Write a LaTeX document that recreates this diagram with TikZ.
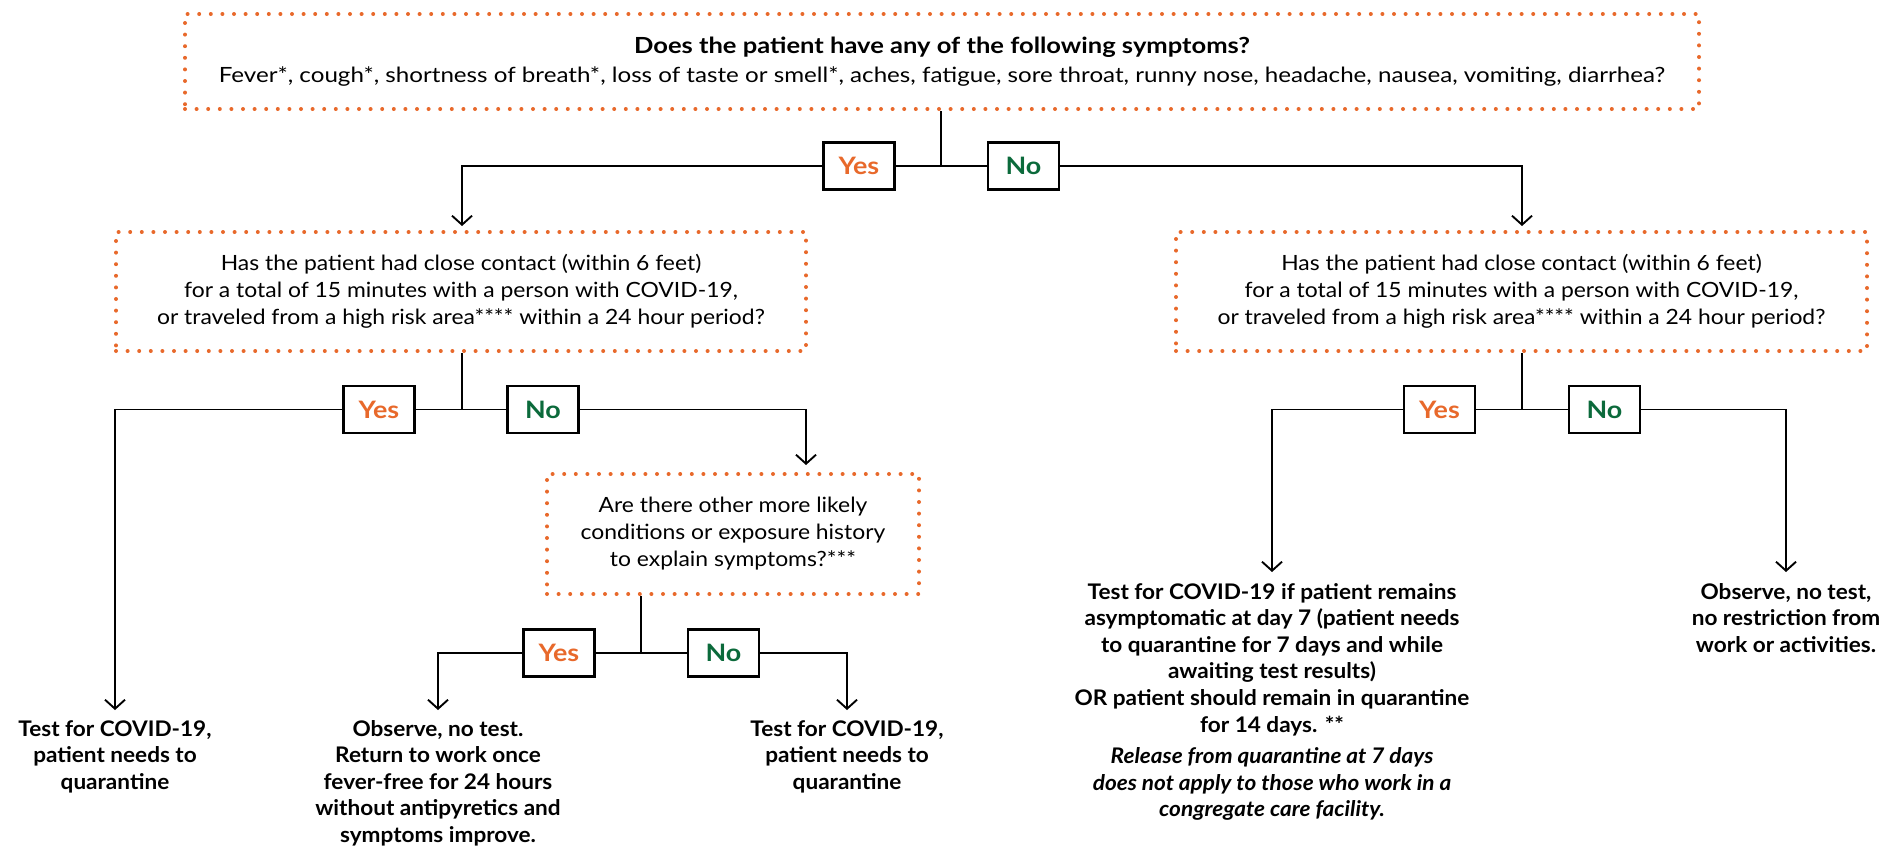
\documentclass[tikz,border=0pt]{standalone}
\usepackage{fontspec}
\setmainfont{Lato}
\newfontfamily\fBox{Lato}[FakeStretch=1.09]
\newfontfamily\fTop{Lato}[FakeStretch=1.15]
\newfontfamily\fLbl{Lato}[FakeStretch=1.12]
\newfontfamily\fLeaf{Lato}[FakeStretch=1.05]
\usetikzlibrary{arrows.meta,calc}
\definecolor{org}{HTML}{E8692B}
\definecolor{grn}{HTML}{0B6A3B}
\tikzset{
  qbox/.style={draw=org, line width=4pt, dash pattern=on 0pt off 11.6pt, line cap=round,
    align=center, inner sep=0pt, font=\fBox\fontsize{21}{27}\selectfont},
  lbl/.style={draw, line width=2.2pt, fill=white, minimum width=71pt, minimum height=47pt,
    inner sep=0pt, font=\fLbl\fontsize{24}{24}\selectfont\bfseries},
  leaf/.style={align=center, inner sep=0pt, anchor=north, font=\fLeaf\fontsize{21.5}{26.6}\selectfont\bfseries},
  conn/.style={line width=1.9pt},
  arr/.style={line width=1.9pt, -{Straight Barb[length=9pt,width=20pt]}}
}
\begin{document}
\begin{tikzpicture}[x=1pt,y=-1pt]
\useasboundingbox (0,0) rectangle (1885,849);
% question boxes
\node[qbox, minimum width=1514pt, minimum height=95pt, font=\fTop\fontsize{21}{27}\selectfont] (q1) at (942,61.5)
  {{\fontsize{22.2}{29}\selectfont\bfseries Does the patient have any of the following symptoms?}\\[2pt]
   Fever*, cough*, shortness of breath*, loss of taste or smell*, aches, fatigue, sore throat, runny nose, headache, nausea, vomiting, diarrhea?};
\node[qbox, minimum width=690pt, minimum height=119pt] (q2l) at (461,291.5)
  {Has the patient had close contact (within 6 feet)\\for a total of 15 minutes with a person with COVID-19,\\or traveled from a high risk area**** within a 24 hour period?};
\node[qbox, minimum width=691pt, minimum height=119pt] (q2r) at (1521.5,291.5)
  {Has the patient had close contact (within 6 feet)\\for a total of 15 minutes with a person with COVID-19,\\or traveled from a high risk area**** within a 24 hour period?};
\node[qbox, minimum width=372pt, minimum height=120pt] (q3) at (733,534)
  {Are there other more likely\\conditions or exposure history\\to explain symptoms?***};
% labels
\node[lbl, text=org] (y1) at (859,166) {Yes};
\node[lbl, text=grn] (n1) at (1023.5,166) {No};
\node[lbl, text=org] (y2l) at (379,409.5) {Yes};
\node[lbl, text=grn] (n2l) at (543,409.5) {No};
\node[lbl, text=org] (y2r) at (1439.5,409.5) {Yes};
\node[lbl, text=grn] (n2r) at (1604.5,409.5) {No};
\node[lbl, text=org] (y3) at (559,653) {Yes};
\node[lbl, text=grn] (n3) at (723.5,653) {No};
% leaves
\node[leaf] (l1) at (115,720) {Test for COVID-19,\\patient needs to\\quarantine};
\node[leaf] (l2) at (438,720) {Observe, no test.\\Return to work once\\fever-free for 24 hours\\without antipyretics and\\symptoms improve.};
\node[leaf] (l3) at (847,720) {Test for COVID-19,\\patient needs to\\quarantine};
\node[leaf] (l4) at (1272,583) {Test for COVID-19 if patient remains\\asymptomatic at day 7 (patient needs\\to quarantine for 7 days and while\\awaiting test results)\\OR patient should remain in quarantine\\for 14 days. **\\[5pt]
  {\itshape Release from quarantine at 7 days}\\{\itshape does not apply to those who work in a}\\{\itshape congregate care facility.}};
\node[leaf] (l5) at (1786,583) {Observe, no test,\\no restriction from\\work or activities.};
% junctions
\coordinate (j1) at (941,166);
\coordinate (j2l) at (462,409.5);
\coordinate (j2r) at (1522,409.5);
\coordinate (j3) at (641,653);
% connectors
\draw[conn] (j1 |- q1.south) -- (j1);
\draw[conn] (y1.east) -- (n1.west);
\draw[arr] (y1.west) -| ($(q2l.north)+(1,-4)$);
\draw[arr] (n1.east) -| ($(q2r.north)+(0.5,-4)$);
\draw[conn] (j2l |- q2l.south) -- (j2l);
\draw[conn] (y2l.east) -- (n2l.west);
\draw[arr] (y2l.west) -| ($(l1.north)+(0,-10)$);
\draw[arr] (n2l.east) -| ($(q3.north)+(73,-7)$);
\draw[conn] (j2r |- q2r.south) -- (j2r);
\draw[conn] (y2r.east) -- (n2r.west);
\draw[arr] (y2r.west) -| ($(l4.north)+(0,-11)$);
\draw[arr] (n2r.east) -| ($(l5.north)+(0,-11)$);
\draw[conn] (j3 |- q3.south) -- (j3);
\draw[conn] (y3.east) -- (n3.west);
\draw[arr] (y3.west) -| ($(l2.north)+(0,-10)$);
\draw[arr] (n3.east) -| ($(l3.north)+(0,-10)$);
\end{tikzpicture}
\end{document}
